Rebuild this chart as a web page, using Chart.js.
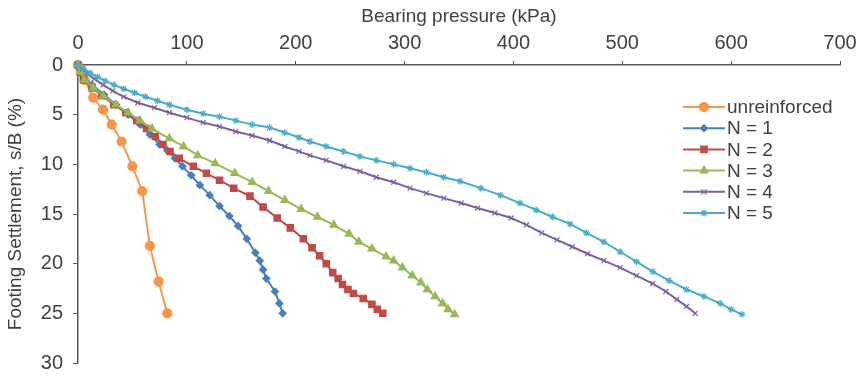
<!DOCTYPE html>
<html>
<head>
<meta charset="utf-8">
<script src="https://cdn.jsdelivr.net/npm/chart.js@4"></script>
<style>
  html, body { margin: 0; padding: 0; background: #fff; }
</style>
</head>
<body>
<canvas id="myChart" width="863" height="385"></canvas>
<script>
// series names
const seriesNames = ['unreinforced', 'N = 1', 'N = 2', 'N = 3', 'N = 4', 'N = 5'];

// bearing pressure (kPa) / settlement s/B (%)
const unreinforcedP = [0, 6, 14, 23, 31, 40, 50, 59, 66, 74, 82];
const unreinforcedS = [0, 1.5, 3.3, 4.5, 6.0, 7.7, 10.2, 12.7, 18.2, 21.8, 25];

const n1P = [0, 4, 13, 24, 35, 46, 57, 66, 75, 82, 89, 96, 104, 112, 121, 130, 139, 147, 155, 163, 167, 170, 173, 181, 185, 188];
const n1S = [0, 1, 2, 3, 4, 5, 6, 7, 8, 8.6, 9.4, 10.2, 11.1, 12.1, 13.1, 14.2, 15.2, 16.2, 17.5, 18.9, 19.7, 20.6, 21.5, 22.8, 24, 25];

const n2P = [0, 2, 5, 13, 22, 33, 44, 54, 63, 71, 78, 84.5, 93, 106, 118, 130, 143, 158, 170, 183, 195, 207, 215, 222, 228, 234, 239, 243, 248, 253, 262, 270, 275, 280];
const n2S = [0, 0.7, 1.5, 2.3, 3.1, 4, 4.8, 5.6, 6.4, 7.2, 8, 8.7, 9.4, 10.2, 10.9, 11.6, 12.4, 13.2, 14.3, 15.4, 16.4, 17.5, 18.4, 19.2, 20, 20.9, 21.5, 22.1, 22.6, 23.0, 23.5, 24.1, 24.6, 25];

const n3P = [0, 2, 6, 14, 23, 35, 46, 57, 68, 84, 97, 110, 126, 144, 160, 175, 190, 205, 220, 235, 249, 258, 270, 283, 290, 298, 307, 315, 321, 328, 335, 340, 346];
const n3S = [0, 0.7, 1.5, 2.3, 3.1, 4, 4.8, 5.6, 6.4, 7.4, 8.2, 9.1, 9.9, 10.9, 11.8, 12.7, 13.6, 14.5, 15.3, 16.1, 17.0, 17.8, 18.5, 19.3, 19.7, 20.4, 21.2, 21.9, 22.6, 23.3, 24.0, 24.6, 25.1];

const n4P = [0, 4, 9, 15, 23, 32, 42, 55, 70, 84, 100, 115, 130, 145, 160, 176, 190, 203, 213, 228, 244, 259, 274, 290, 305, 320, 336, 352, 367, 383, 398, 412, 426, 440, 454, 468, 483, 498, 513, 528, 540, 550, 559, 567];
const n4S = [0, 0.4, 0.9, 1.4, 2.0, 2.6, 3.2, 3.8, 4.3, 4.8, 5.3, 5.8, 6.2, 6.7, 7.1, 7.6, 8.2, 8.7, 9.1, 9.6, 10.2, 10.7, 11.3, 11.8, 12.4, 12.9, 13.4, 13.9, 14.4, 14.9, 15.4, 16.1, 16.9, 17.6, 18.3, 19.0, 19.7, 20.4, 21.2, 22.0, 22.8, 23.6, 24.3, 25.0];

const n5P = [0, 5, 11, 18, 25, 33, 42, 52, 62, 73, 84, 100, 115, 130, 145, 160, 176, 190, 203, 213, 228, 244, 259, 274, 290, 305, 320, 336, 351, 370, 388, 406, 421, 436, 452, 467, 483, 498, 513, 528, 543, 559, 575, 590, 600, 610];
const n5S = [0, 0.4, 0.8, 1.2, 1.6, 2.0, 2.4, 2.8, 3.2, 3.6, 4.0, 4.5, 4.9, 5.2, 5.6, 6.0, 6.3, 6.8, 7.3, 7.7, 8.2, 8.7, 9.2, 9.6, 10.0, 10.4, 10.8, 11.3, 11.7, 12.4, 13.1, 13.9, 14.6, 15.3, 16.0, 16.9, 17.8, 18.8, 19.8, 20.8, 21.7, 22.6, 23.3, 24.0, 24.6, 25.1];

const xTicks = [0, 100, 200, 300, 400, 500, 600, 700];
const yTicks = [0, 5, 10, 15, 20, 25, 30];

const FONT = "'Liberation Sans', Arial, sans-serif";
const TEXT = '#404040';

function pairs(px, sy) {
    let out = [];
    px.forEach((p, i) => out.push({x: p, y: sy[i]}));
    return out;
}

const styles = [
    {color: '#F79646', point: 'circle',   r: 4.5},
    {color: '#4A7EBB', point: 'rectRot',  r: 3.5},
    {color: '#BE4B48', point: 'rect',     r: 4.5},
    {color: '#98B954', point: 'triangle', r: 4.5},
    {color: '#7D60A0', point: 'crossRot', r: 3.5},
    {color: '#4BACC6', point: 'star',     r: 3.5}
];
const allData = [
    pairs(unreinforcedP, unreinforcedS),
    pairs(n1P, n1S),
    pairs(n2P, n2S),
    pairs(n3P, n3S),
    pairs(n4P, n4S),
    pairs(n5P, n5S)
];

let datasets = [];
seriesNames.forEach((name, i) => {
    datasets.push({
        label: name,
        data: allData[i],
        borderColor: styles[i].color,
        backgroundColor: styles[i].color,
        borderWidth: 2,
        pointStyle: styles[i].point,
        pointRadius: styles[i].r,
        pointBorderWidth: 1.2,
        pointBorderColor: styles[i].color,
        pointBackgroundColor: styles[i].color,
        tension: 0,
        clip: false,
        order: 6 - i
    });
});

// legend drawn inside the plot, like the original
const insideLegend = {
    id: 'insideLegend',
    afterDraw(chart) {
        const ctx = chart.ctx;
        ctx.save();
        chart.data.datasets.forEach((ds, i) => {
            let y = 107 + i * 21.2;
            ctx.strokeStyle = ds.borderColor;
            ctx.fillStyle = ds.borderColor;
            ctx.lineWidth = 2;
            ctx.beginPath();
            ctx.moveTo(683, y);
            ctx.lineTo(725, y);
            ctx.stroke();
            ctx.lineWidth = 1.2;
            Chart.helpers.drawPoint(ctx, {pointStyle: ds.pointStyle, radius: ds.pointRadius, rotation: 0, borderWidth: 1.2}, 704, y);
            ctx.fillStyle = TEXT;
            ctx.font = '19px ' + FONT;
            ctx.textAlign = 'left';
            ctx.textBaseline = 'middle';
            ctx.fillText(ds.label, 727, y + 1);
        });
        ctx.restore();
    }
};

let ctx = document.getElementById('myChart').getContext('2d');
let wykres = new Chart(ctx, {
    type: 'line',
    data: { datasets: datasets },
    plugins: [insideLegend],
    options: {
        responsive: false,
        animation: false,
        layout: { padding: { left: 0, top: 0, right: 23, bottom: 18 } },
        plugins: { legend: { display: false }, tooltip: { enabled: false } },
        scales: {
            x: {
                type: 'linear',
                position: 'top',
                min: 0, max: 700,
                afterBuildTicks: s => { s.ticks = xTicks.map(v => ({value: v})); },
                afterFit: s => { s.height = 65; },
                grid: { display: true, drawOnChartArea: false, drawTicks: true, tickLength: 4, color: '#595959' },
                border: { display: true, color: '#595959', width: 1.5 },
                ticks: { color: TEXT, font: { family: FONT, size: 20 }, padding: 6, maxRotation: 0 },
                title: { display: true, text: 'Bearing pressure (kPa)', color: TEXT, font: { family: FONT, size: 19 }, padding: { top: 5, bottom: 0 } }
            },
            y: {
                type: 'linear',
                reverse: true,
                min: 0, max: 30,
                afterBuildTicks: s => { s.ticks = yTicks.map(v => ({value: v})); },
                afterFit: s => { s.width = 78; },
                grid: { display: true, drawOnChartArea: false, drawTicks: true, tickLength: 5, color: '#595959' },
                border: { display: true, color: '#595959', width: 1.5 },
                ticks: { color: TEXT, font: { family: FONT, size: 20 }, padding: 10 },
                title: { display: true, text: 'Footing Settlement, s/B (%)', color: TEXT, font: { family: FONT, size: 19 }, padding: { top: 4, bottom: 0 } }
            }
        }
    }
});
</script>
</body>
</html>
